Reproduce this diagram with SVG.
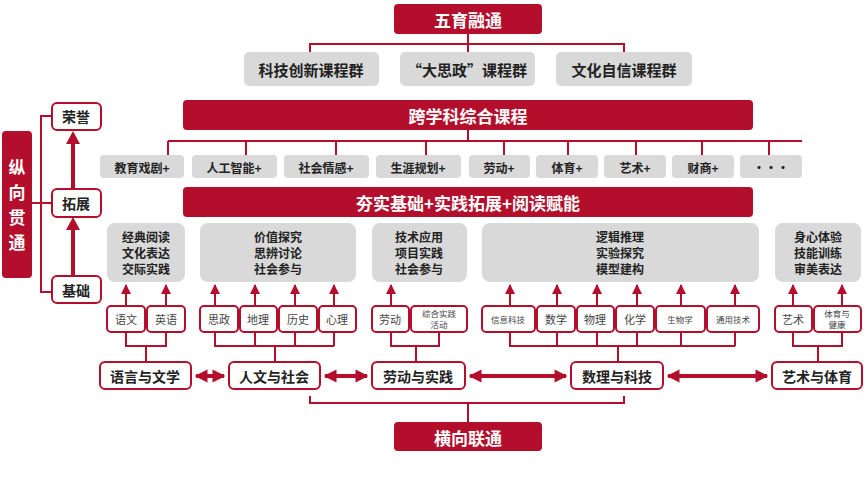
<svg xmlns="http://www.w3.org/2000/svg" width="864" height="488" viewBox="0 0 864 488">
<defs>
<style>
text{font-family:"Noto Sans CJK SC","Noto Sans",sans-serif;text-anchor:middle;dominant-baseline:central}
.r{fill:#b30f2d}
.g{fill:#d9d9d9}
.w{fill:#fff;stroke:#b30f2d;stroke-width:2}
.wt{fill:#fff;font-weight:bold;font-size:17px}
.gt{fill:#222;font-weight:bold;font-size:15px}
.st{fill:#222;font-weight:bold;font-size:12px}
.mt{fill:#222;font-weight:bold;font-size:12px}
.sub{fill:#444;font-size:11px}
.sm{fill:#444;font-size:8.5px}
.bt{fill:#222;font-weight:bold;font-size:14px}
.ln{stroke:#b30f2d;stroke-width:2;fill:none}
.ar{stroke:#b30f2d;stroke-width:2;fill:none;marker-end:url(#a)}
.da{stroke:#b30f2d;stroke-width:4;fill:none;marker-end:url(#b);marker-start:url(#bs)}
</style>
<marker id="a" viewBox="0 0 10 10" refX="9" refY="5" markerWidth="5" markerHeight="5" orient="auto"><path d="M0,0L10,5L0,10z" fill="#b30f2d"/></marker>
<marker id="b" viewBox="0 0 10 10" refX="9" refY="5" markerWidth="3.2" markerHeight="4" orient="auto"><path d="M0,0L10,5L0,10z" fill="#b30f2d"/></marker>
<marker id="bs" viewBox="0 0 10 10" refX="1" refY="5" markerWidth="3.2" markerHeight="4" orient="auto"><path d="M10,0L0,5L10,10z" fill="#b30f2d"/></marker>
</defs>
<g id="connectors">
<path class="ln" d="M468,34V52M310,52V44H624V52"/>
<path class="ln" d="M468,130V141M168,141H802M168,141V155M246,141V155M336,141V155M426,141V155M504,141V155M568,141V155M636,141V155M702,141V155M769,141V155"/>
<path class="ar" d="M126,306V285"/><path class="ar" d="M166,306V285"/><path class="ar" d="M215,306V285"/><path class="ar" d="M255,306V285"/><path class="ar" d="M295,306V285"/><path class="ar" d="M334,306V285"/><path class="ar" d="M391,306V285"/><path class="ar" d="M510,306V285"/><path class="ar" d="M557,306V285"/><path class="ar" d="M597,306V285"/><path class="ar" d="M637,306V285"/><path class="ar" d="M681,306V285"/><path class="ar" d="M735,306V285"/><path class="ar" d="M793,306V285"/><path class="ar" d="M842,306V285"/>
<path class="ln" d="M126,332V346H166V332M146,346V362"/>
<path class="ln" d="M215,332V346H334M255,332V346M295,332V346M334,332V346M275,346V362"/>
<path class="ln" d="M391,332V346H439V332M416,346V362"/>
<path class="ln" d="M510,332V346H735M557,332V346M597,332V346M637,332V346M681,332V346M735,332V346M618,346V362"/>
<path class="ln" d="M793,332V346H842V332M818,346V362"/>
<path class="da" d="M196,376H224"/><path class="da" d="M325,376H367"/><path class="da" d="M470,376H566"/><path class="da" d="M668,376H767"/>
<path class="ln" d="M310,396V403H624V396M468,403V422"/>
<path class="ln" d="M52,116H41V292H52M41,203H52M32,203H41"/>
<path stroke="#b30f2d" stroke-width="4" fill="none" d="M73,188V142M73,275V228"/>
<path fill="#b30f2d" d="M66,144L73,131L80,144zM66,230L73,217L80,230z"/>
</g>
<g id="top"><rect class="r" x="394" y="4" width="148" height="30" rx="4"/><text class="wt" x="468" y="19">五育融通</text></g>
<g id="g1"><rect class="g" x="244" y="52" width="135" height="34" rx="5"/><text class="gt" x="311" y="69">科技创新课程群</text></g>
<g id="g2"><rect class="g" x="400" y="52" width="135" height="34" rx="5"/><text class="gt" x="467" y="69">“大思政”课程群</text></g>
<g id="g3"><rect class="g" x="556" y="52" width="136" height="34" rx="5"/><text class="gt" x="624" y="69">文化自信课程群</text></g>
<g id="kx"><rect class="r" x="183" y="100" width="570" height="30" rx="4"/><text class="wt" x="468" y="115">跨学科综合课程</text></g>
<g id="items">
<rect class="g" x="100" y="155" width="84" height="23" rx="4"/><text class="st" x="142" y="167">教育戏剧+</text>
<rect class="g" x="192" y="155" width="85" height="23" rx="4"/><text class="st" x="234" y="167">人工智能+</text>
<rect class="g" x="284" y="155" width="85" height="23" rx="4"/><text class="st" x="326" y="167">社会情感+</text>
<rect class="g" x="376" y="155" width="85" height="23" rx="4"/><text class="st" x="418" y="167">生涯规划+</text>
<rect class="g" x="469" y="155" width="61" height="23" rx="4"/><text class="st" x="499" y="167">劳动+</text>
<rect class="g" x="536" y="155" width="62" height="23" rx="4"/><text class="st" x="567" y="167">体育+</text>
<rect class="g" x="604" y="155" width="62" height="23" rx="4"/><text class="st" x="635" y="167">艺术+</text>
<rect class="g" x="672" y="155" width="62" height="23" rx="4"/><text class="st" x="703" y="167">财商+</text>
<rect class="g" x="740" y="155" width="62" height="23" rx="4"/><text class="st" x="771" y="167">•••</text>
</g>
<g id="hs"><rect class="r" x="183" y="187" width="570" height="30" rx="4"/><text class="wt" x="468" y="202">夯实基础+实践拓展+阅读赋能</text></g>
<g id="c1"><rect class="g" x="107" y="223" width="78" height="59" rx="8"/><text class="mt" x="146" y="236">经典阅读</text><text class="mt" x="146" y="252">文化表达</text><text class="mt" x="146" y="268">交际实践</text></g>
<g id="c2"><rect class="g" x="200" y="223" width="156" height="59" rx="8"/><text class="mt" x="278" y="236">价值探究</text><text class="mt" x="278" y="252">思辨讨论</text><text class="mt" x="278" y="268">社会参与</text></g>
<g id="c3"><rect class="g" x="372" y="223" width="95" height="59" rx="8"/><text class="mt" x="419" y="236">技术应用</text><text class="mt" x="419" y="252">项目实践</text><text class="mt" x="419" y="268">社会参与</text></g>
<g id="c4"><rect class="g" x="482" y="223" width="277" height="59" rx="8"/><text class="mt" x="620" y="236">逻辑推理</text><text class="mt" x="620" y="252">实验探究</text><text class="mt" x="620" y="268">模型建构</text></g>
<g id="c5"><rect class="g" x="775" y="223" width="86" height="59" rx="8"/><text class="mt" x="818" y="236">身心体验</text><text class="mt" x="818" y="252">技能训练</text><text class="mt" x="818" y="268">审美表达</text></g>
<g id="subjects">
<rect class="w" x="107" y="306" width="38" height="26" rx="4"/><text class="sub" x="126" y="319">语文</text>
<rect class="w" x="147" y="306" width="38" height="26" rx="4"/><text class="sub" x="166" y="319">英语</text>
<rect class="w" x="200" y="306" width="38" height="26" rx="4"/><text class="sub" x="219" y="319">思政</text>
<rect class="w" x="240" y="306" width="37" height="26" rx="4"/><text class="sub" x="258" y="319">地理</text>
<rect class="w" x="279" y="306" width="38" height="26" rx="4"/><text class="sub" x="298" y="319">历史</text>
<rect class="w" x="319" y="306" width="37" height="26" rx="4"/><text class="sub" x="337" y="319">心理</text>
<rect class="w" x="372" y="306" width="37" height="26" rx="4"/><text class="sub" x="390" y="319">劳动</text>
<rect class="w" x="411" y="306" width="56" height="26" rx="4"/><text class="sm" x="439" y="313">综合实践</text><text class="sm" x="439" y="324">活动</text>
<rect class="w" x="482" y="306" width="53" height="26" rx="4"/><text class="sm" x="508" y="319">信息科技</text>
<rect class="w" x="537" y="306" width="38" height="26" rx="4"/><text class="sub" x="556" y="319">数学</text>
<rect class="w" x="577" y="306" width="37" height="26" rx="4"/><text class="sub" x="595" y="319">物理</text>
<rect class="w" x="616" y="306" width="38" height="26" rx="4"/><text class="sub" x="635" y="319">化学</text>
<rect class="w" x="656" y="306" width="49" height="26" rx="4"/><text class="sm" x="680" y="319">生物学</text>
<rect class="w" x="707" y="306" width="52" height="26" rx="4"/><text class="sm" x="733" y="319">通用技术</text>
<rect class="w" x="775" y="306" width="37" height="26" rx="4"/><text class="sub" x="793" y="319">艺术</text>
<rect class="w" x="814" y="306" width="47" height="26" rx="4"/><text class="sm" x="837" y="313">体育与</text><text class="sm" x="837" y="324">健康</text>
</g>
<g id="m1"><rect class="w" x="100" y="362" width="91" height="27" rx="5"/><text class="bt" x="145" y="376">语言与文学</text></g>
<g id="m2"><rect class="w" x="229" y="362" width="91" height="27" rx="5"/><text class="bt" x="274" y="376">人文与社会</text></g>
<g id="m3"><rect class="w" x="372" y="362" width="93" height="27" rx="5"/><text class="bt" x="418" y="376">劳动与实践</text></g>
<g id="m4"><rect class="w" x="571" y="362" width="92" height="27" rx="5"/><text class="bt" x="617" y="376">数理与科技</text></g>
<g id="m5"><rect class="w" x="772" y="362" width="90" height="27" rx="5"/><text class="bt" x="817" y="376">艺术与体育</text></g>
<g id="bottom"><rect class="r" x="394" y="422" width="148" height="29" rx="4"/><text class="wt" x="468" y="437">横向联通</text></g>
<g id="left"><rect class="r" x="2" y="131" width="30" height="147" rx="4"/>
<text class="wt" x="17" y="166">纵</text><text class="wt" x="17" y="191">向</text><text class="wt" x="17" y="216">贯</text><text class="wt" x="17" y="241">通</text></g>
<g id="l1"><rect class="w" x="52" y="103" width="49" height="27" rx="5"/><text class="bt" x="76" y="116">荣誉</text></g>
<g id="l2"><rect class="w" x="52" y="189" width="49" height="28" rx="5"/><text class="bt" x="76" y="203">拓展</text></g>
<g id="l3"><rect class="w" x="52" y="276" width="49" height="27" rx="5"/><text class="bt" x="76" y="290">基础</text></g>
</svg>
